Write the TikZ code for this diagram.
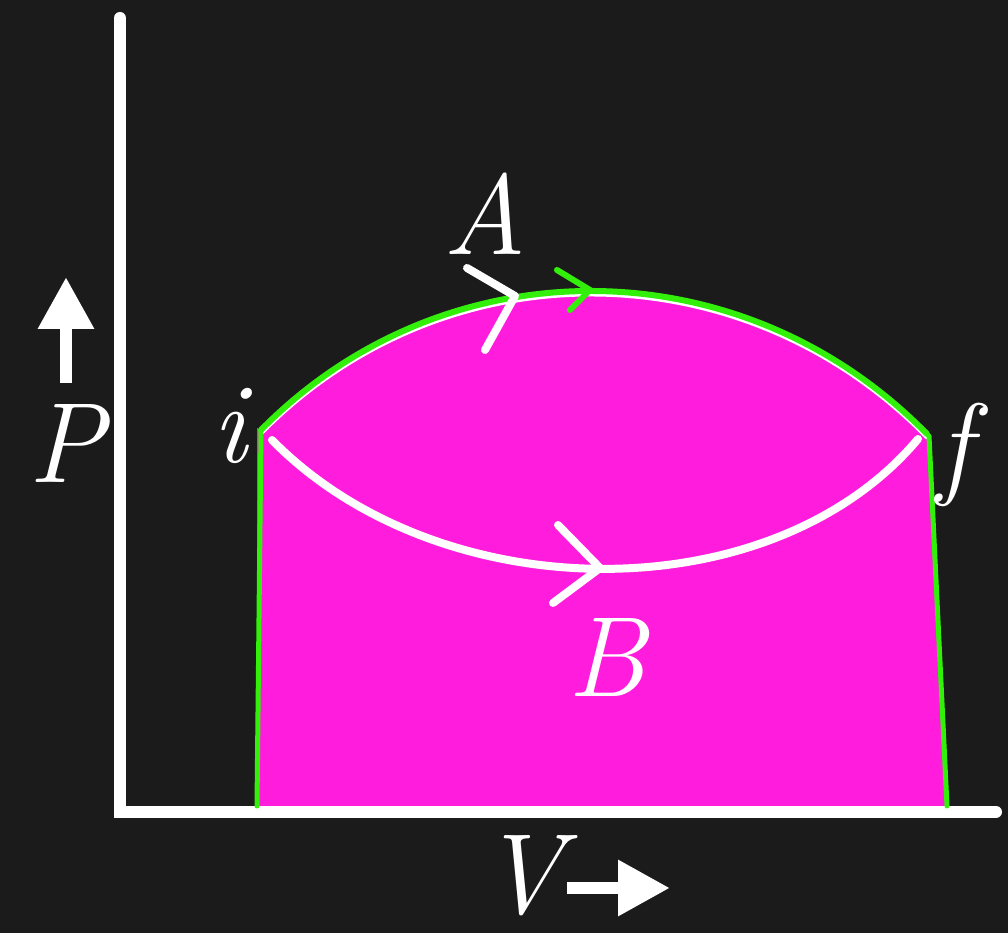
\documentclass[tikz,border=0pt]{standalone}
\usepackage{tikz}
\usetikzlibrary{arrows.meta,calc,positioning}
\definecolor{bgdark}{RGB}{27,27,27}
\definecolor{pvmag}{RGB}{255,28,220}
\definecolor{pvgreen}{RGB}{50,240,10}
\tikzset{
  axisline/.style={white,line width=.24cm,line cap=round},
  pathline/.style={white,line width=.16cm,line cap=round},
  greenline/.style={pvgreen,line width=.1cm,line cap=round},
  chevron/.style={line width=.16cm,line cap=round,line join=round},
  pvlabel/.style={text=white,font=\fontsize{65}{70}\selectfont\itshape,inner sep=0pt,anchor=base},
  dirarrow/.style={white,line width=.25cm,-{Triangle[length=1.04cm,width=1.06cm]}}
}
\begin{document}
\begin{tikzpicture}[x=.02cm,y=.02cm]
    \fill[bgdark] (0,0) rectangle (1008,933);
    \useasboundingbox (0,0) rectangle (1008,933);
    % states and feet of the verticals
    \coordinate (i) at (261,503);
    \coordinate (f) at (927,499);
    \coordinate (iv) at (257,127);
    \coordinate (fv) at (947,127);
    % area under path A
    \fill[pvmag] (iv) -- (257,505) -- (i) .. controls (445,690) and (742,688) .. (f)
      -- (929,499) -- (fv) -- cycle;
    % axes
    \coordinate (top) at (120,915);
    \coordinate (org) at (120,121);
    \coordinate (vend) at (996,121);
    \draw[axisline] (top) -- (org) -- (vend);
    % path A, traced in green
    \draw[pathline,line width=.08cm,transform canvas={yshift=-.07cm}] (i) .. controls (445,690) and (742,688) .. (f);
    \draw[greenline,line width=.12cm] (i) .. controls (445,690) and (742,688) .. (f);
    \draw[greenline] (i) -- (iv);
    \draw[greenline] (929,497) -- (fv);
    % path B
    \coordinate (ib) at (272,493);
    \coordinate (fb) at (918,494);
    \draw[pathline] (ib) .. controls (440,322) and (772,320) .. (fb);
    % direction marks
    \draw[chevron,white] (467,665) -- (515,637) -- (485,583);
    \draw[chevron,pvgreen,line width=.12cm] (557,663) -- (590,643) -- (570,623);
    \draw[chevron,white] (558,408) -- (600,365) -- (553,330);
    % labels
    \node[pvlabel] (alab) at (485,678) {A};
    \node[pvlabel] (blab) at (607,236) {B};
    \node[pvlabel] (ilab) at (230,470) {i};
    \node[pvlabel] (flab) at (955,449) {f};
    \node[pvlabel] (plab) at (66,450) {P};
    \node[pvlabel] (vlab) at (522,19) {V};
    \coordinate (pup0) at (66,550);
    \coordinate (pup1) at (66,656);
    \coordinate (vr0) at (567,45);
    \coordinate (vr1) at (670,45);
    \draw[dirarrow] (pup0) -- (pup1);
    \draw[dirarrow] (vr0) -- (vr1);
\end{tikzpicture}
\end{document}
